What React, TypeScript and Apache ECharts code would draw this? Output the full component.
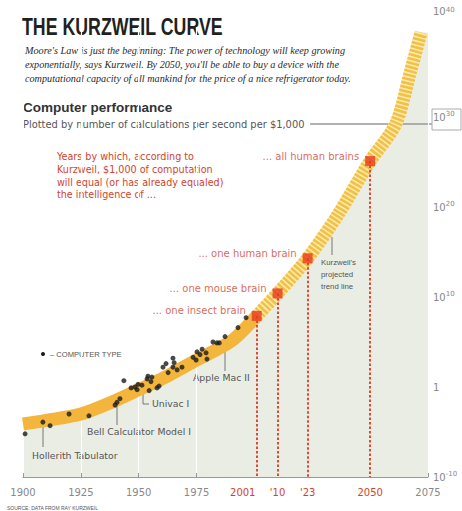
import React, { useEffect, useRef } from "react";
import * as echarts from "echarts";

// Kurzweil curve (year, log10 of calculations per second per $1,000)
const curveYears = [1900, 1910, 1925, 1940, 1950, 1960, 1975, 1990, 2001, 2010, 2023, 2036, 2050, 2061, 2067.5, 2072];
const curveExp = [-4.1, -3.7, -3.0, -1.5, -0.3, 0.9, 3.0, 5.1, 7.9, 10.4, 14.3, 19.1, 25.1, 29.2, 35.1, 39.4];
const projectionStartYear = 2001;

// Computer types (dots)
const computerYears = [1900.9, 1908.6, 1911.7, 1919.9, 1928.5, 1939.8, 1940.6, 1941.9, 1943.6, 1946.7, 1948.4, 1949.7, 1951.4, 1949.3, 1953.6, 1954.0, 1955.3, 1955.7, 1954.5, 1957.9, 1958.8, 1960.5, 1961.8, 1962.7, 1964.8, 1965.3, 1964.8, 1966.6, 1968.7, 1973.5, 1975.2, 1976.5, 1977.4, 1979.1, 1979.5, 1974.8, 1982.1, 1983.8, 1984.8, 1987.3, 1992.9, 1996.4];
const computerExp = [-5.2, -3.9, -4.3, -3.0, -3.2, -2.0, -1.7, -1.3, 0.7, -0.1, 0.0, 0.3, 0.2, -0.3, 0.9, 1.2, 0.6, 1.1, -0.4, -0.1, 0.1, 2.2, 2.6, 1.6, 3.2, 2.7, 2.2, 1.9, 2.2, 3.3, 3.9, 3.6, 4.2, 3.8, 3.1, 3.0, 5.0, 4.9, 4.9, 5.6, 6.6, 7.7];

// Milestones
const milestoneYears = [2001, 2010, 2023, 2050];
const milestoneExp = [7.9, 10.4, 14.3, 25.1];
const milestoneLabels = ["... one insect brain", "... one mouse brain", "... one human brain", "... all human brains"];

// Axis ticks
const xTickValues = [1900, 1925, 1950, 1975, 2001, 2010, 2023, 2050, 2075];
const xTickLabels = ["1900", "1925", "1950", "1975", "2001", "'10", "'23", "2050", "2075"];
const xMinorTicks = [1900, 1925, 1950, 1975, 2075];
const yTickValues = [-10, 0, 10, 20, 30, 40];

const SANS = "'Liberation Sans', Arial, sans-serif";
const DSANS = "'DejaVu Sans', Verdana, sans-serif";
const AXISFONT = "'DejaVu Sans', sans-serif";
const RED = "#d2432e";

export default function App() {
  const ref = useRef<HTMLDivElement>(null);
  useEffect(() => {
    const chart = echarts.init(ref.current!, null, { renderer: "svg" });
    const curve = curveYears.map((y, i) => [y, curveExp[i]]);
    const solid = curve.filter((p) => p[0] <= projectionStartYear);
    const projected = curve.filter((p) => p[0] >= projectionStartYear);
    const areaData = [...curve, [2075, curveExp[curveExp.length - 1]]];

    const option: any = {
      animation: false,
      grid: { left: 23, right: 34, top: 27, bottom: 34 },
      xAxis: {
        type: "value",
        min: 1900,
        max: 2075,
        axisLine: { show: true, onZero: false, lineStyle: { color: "#999", width: 1 } },
        axisTick: { show: true, inside: true, length: 4, customValues: xMinorTicks, lineStyle: { color: "#999" } },
        splitLine: { show: true, lineStyle: { color: "#ffffff", width: 1.2 } },
        axisLabel: {
          customValues: xTickValues,
          margin: 10,
          formatter: (v: number) => {
            const i = xTickValues.indexOf(v);
            const t = xTickLabels[i] ?? String(v);
            if (v === 2001) return `{rl|${t}}`;
            return milestoneYears.includes(v) ? `{r|${t}}` : `{g|${t}}`;
          },
          rich: {
            r: { color: RED, fontSize: 10, fontFamily: AXISFONT },
            rl: { color: RED, fontSize: 10, fontFamily: AXISFONT, padding: [0, 28, 0, 0] },
            g: { color: "#888", fontSize: 10, fontFamily: AXISFONT },
          },
        },
      },
      yAxis: {
        type: "value",
        position: "right",
        min: -10,
        max: 40,
        interval: 10,
        axisLine: { show: false },
        axisTick: { show: false },
        splitLine: { show: false },
        axisLabel: {
          customValues: yTickValues,
          margin: 5,
          formatter: (v: number) => {
            if (v === 0) return "{n|1}";
            if (v === 40) return "{t|10}{ts|40}";
            return `{n|10}{s|${v}}`;
          },
          rich: {
            n: { fontSize: 10, color: "#888", lineHeight: 14, fontFamily: AXISFONT },
            s: { fontSize: 7, color: "#888", lineHeight: 8, verticalAlign: "top", fontFamily: AXISFONT },
            t: { fontSize: 10, color: "#888", padding: [0, 0, 32, 0], verticalAlign: "top", fontFamily: AXISFONT },
            ts: { fontSize: 7, color: "#888", lineHeight: 8, verticalAlign: "top", fontFamily: AXISFONT },
          },
        },
      },
      series: [
        {
          type: "line",
          data: areaData,
          smooth: 0.3,
          symbol: "none",
          z: -1,
          lineStyle: { width: 0, opacity: 0 },
          areaStyle: { color: "#e9ede3", origin: "start", opacity: 1 },
          silent: true,
        },
        {
          type: "line",
          data: solid,
          smooth: 0.3,
          symbol: "none",
          lineStyle: { width: 13, color: "#f4b53c", cap: "butt" },
          silent: true,
        },
        {
          type: "line",
          data: projected,
          smooth: 0.3,
          symbol: "none",
          lineStyle: { width: 13, color: "#fbe9ad", cap: "butt" },
          silent: true,
        },
        {
          type: "line",
          data: projected,
          smooth: 0.3,
          symbol: "none",
          lineStyle: { width: 13, color: "#f2c043", type: [2.5, 1.6], cap: "butt" },
          silent: true,
        },
        {
          type: "scatter",
          data: computerYears.map((y, i) => [y, computerExp[i]]),
          symbolSize: 5,
          z: 4,
          itemStyle: { color: "#1a1a1a" },
          silent: true,
        },
        {
          type: "scatter",
          data: milestoneYears.map((y, i) => [y, milestoneExp[i]]),
          symbol: "rect",
          symbolSize: 10,
          itemStyle: { color: "#e8381f" },
          z: 5,
          label: {
            show: true,
            position: "left",
            distance: 6,
            offset: [0, -5],
            formatter: (p: any) => milestoneLabels[p.dataIndex],
            color: RED,
            fontSize: 10,
            fontFamily: DSANS,
          },
          markLine: {
            silent: true,
            symbol: "none",
            label: { show: false },
            lineStyle: { color: "#dd4a36", type: [2.5, 2], width: 2 },
            data: milestoneYears.map((y, i) => [{ coord: [y, milestoneExp[i]] }, { coord: [y, -10] }]),
          },
        },
      ],
      graphic: [
        {
          type: "text",
          x: 22,
          y: 14,
          scaleX: 0.74,
          style: {
            text: "THE KURZWEIL CURVE",
            font: "bold 24px 'Liberation Sans', Arial, sans-serif",
            fill: "#231f20",
          },
        },
        {
          type: "text",
          left: 25,
          top: 43,
          style: {
            text:
              "Moore's Law is just the beginning: The power of technology will keep growing\nexponentially, says Kurzweil. By 2050, you'll be able to buy a device with the\ncomputational capacity of all mankind for the price of a nice refrigerator today.",
            font: "italic 10.2px 'Liberation Serif', 'DejaVu Serif', serif",
            lineHeight: 14,
            fill: "#2a2a2a",
          },
        },
        {
          type: "text",
          left: 23,
          top: 100,
          style: { text: "Computer performance", font: `bold 13.5px ${SANS}`, fill: "#333" },
        },
        {
          type: "text",
          left: 23,
          top: 119,
          style: { text: "Plotted by number of calculations per second per $1,000", font: `9.9px ${DSANS}`, fill: "#555" },
        },
        { type: "line", shape: { x1: 310, y1: 124, x2: 432, y2: 124 }, style: { stroke: "#999", lineWidth: 1.5 } },
        { type: "rect", shape: { x: 432, y: 109, width: 29, height: 21 }, style: { fill: "none", stroke: "#aaa", lineWidth: 1 } },
        {
          type: "text",
          left: 57,
          top: 150,
          style: {
            text: "Years by which, according to\nKurzweil, $1,000 of computation\nwill equal (or has already equaled)\nthe intelligence of ...",
            font: `9.6px ${DSANS}`,
            lineHeight: 12.8,
            fill: RED,
          },
        },
        // Kurzweil's projected trend line
        { type: "line", shape: { x1: 332, y1: 237, x2: 332, y2: 255 }, style: { stroke: "#777", lineWidth: 1 } },
        {
          type: "text",
          left: 321,
          top: 256,
          style: { text: "Kurzweil's\nprojected\ntrend line", font: `7.8px ${SANS}`, lineHeight: 12, fill: "#555" },
        },
        // legend
        { type: "circle", shape: { cx: 43, cy: 354, r: 2 }, style: { fill: "#1a1a1a" } },
        {
          type: "text",
          left: 50,
          top: 350,
          style: { text: "– COMPUTER TYPE", font: `7.6px ${SANS}`, fill: "#555" },
        },
        // callouts
        { type: "line", shape: { x1: 225, y1: 339, x2: 225, y2: 371 }, style: { stroke: "#777", lineWidth: 1 } },
        { type: "text", left: 193, top: 373, style: { text: "Apple Mac II", font: `9.3px ${DSANS}`, fill: "#555" } },
        { type: "polyline", shape: { points: [[143, 393], [143, 404], [149, 404]] }, style: { stroke: "#777", lineWidth: 1, fill: "none" } },
        { type: "text", left: 152, top: 399, style: { text: "Univac I", font: `9.3px ${DSANS}`, fill: "#555" } },
        { type: "line", shape: { x1: 117, y1: 406, x2: 117, y2: 425 }, style: { stroke: "#777", lineWidth: 1 } },
        { type: "text", left: 87, top: 427, style: { text: "Bell Calculator Model I", font: `9.3px ${DSANS}`, fill: "#555" } },
        { type: "line", shape: { x1: 43, y1: 424, x2: 43, y2: 447 }, style: { stroke: "#777", lineWidth: 1 } },
        { type: "text", left: 32, top: 451, style: { text: "Hollerith Tabulator", font: `9.3px ${DSANS}`, fill: "#555" } },
        {
          type: "text",
          left: 7,
          top: 505,
          style: { text: "SOURCE: DATA FROM RAY KURZWEIL", font: `5px ${SANS}`, fill: "#555" },
        },
      ],
    };
    chart.setOption(option);
    return () => chart.dispose();
  }, []);
  return (
    <div
      ref={ref}
      style={{ position: "absolute", left: 0, top: 0, width: 462, height: 511, background: "#fff" }}
    />
  );
}
